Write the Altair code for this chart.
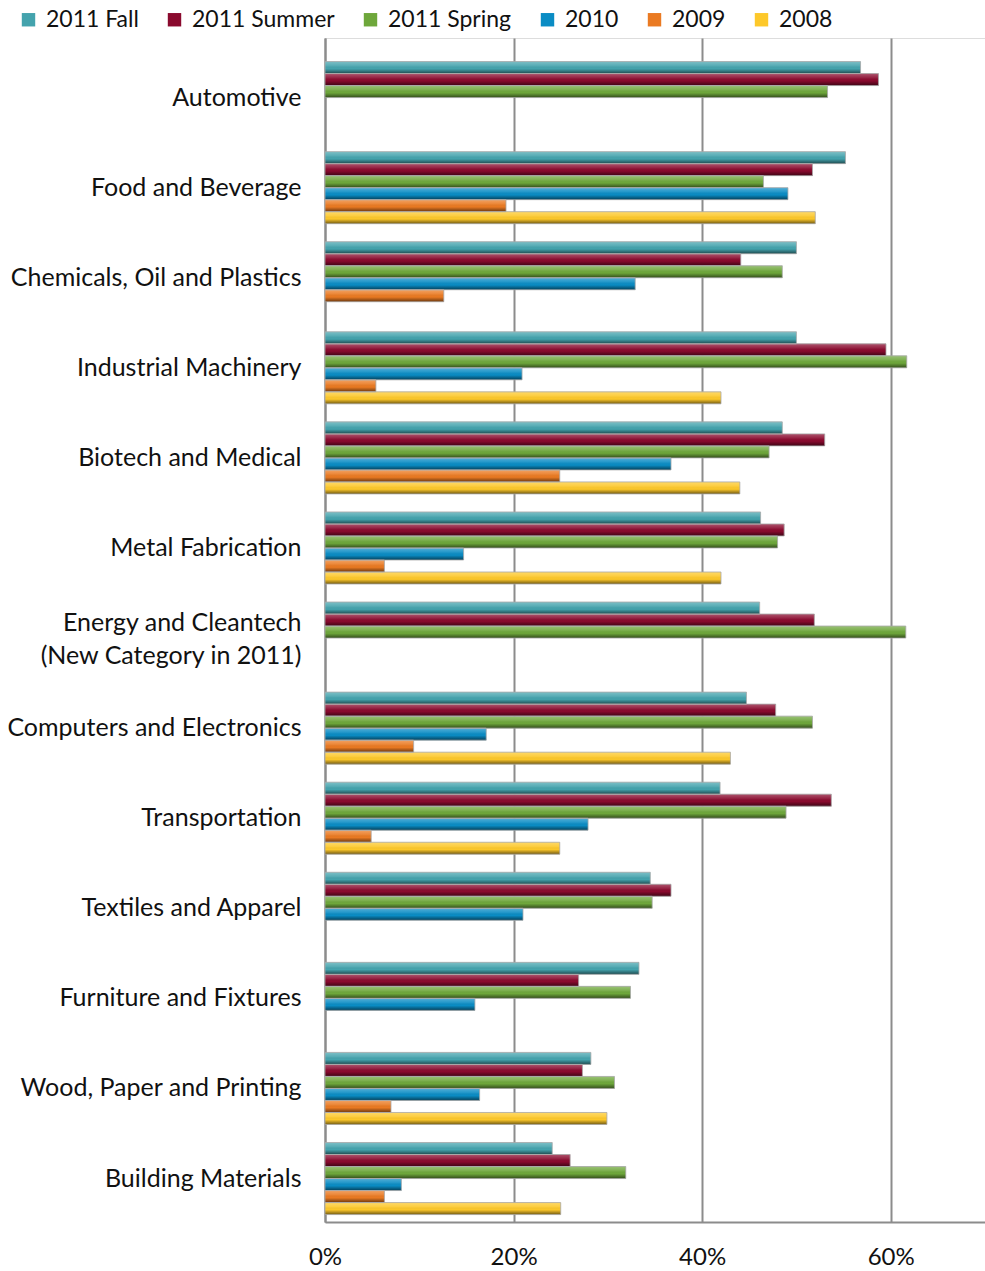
import altair as alt
import pandas as pd

# Industry categories, top to bottom
categories = [
    "Automotive",
    "Food and Beverage",
    "Chemicals, Oil and Plastics",
    "Industrial Machinery",
    "Biotech and Medical",
    "Metal Fabrication",
    "Energy and Cleantech |(New Category in 2011)",
    "Computers and Electronics",
    "Transportation",
    "Textiles and Apparel",
    "Furniture and Fixtures",
    "Wood, Paper and Printing",
    "Building Materials",
]

series_names = ["2011 Fall", "2011 Summer", "2011 Spring", "2010", "2009", "2008"]
series_colors = ["#44a3ad", "#8a0a2e", "#6ea73b", "#0a8cc4", "#ea7a22", "#fdc82a"]

# Percent of respondents, one list per survey (None = not surveyed)
fall_2011 = [56.8, 55.2, 50.0, 50.0, 48.5, 46.2, 46.1, 44.7, 41.9, 34.5, 33.3, 28.2, 24.1]
summer_2011 = [58.7, 51.7, 44.1, 59.5, 53.0, 48.7, 51.9, 47.8, 53.7, 36.7, 26.9, 27.3, 26.0]
spring_2011 = [53.3, 46.5, 48.5, 61.7, 47.1, 48.0, 61.6, 51.7, 48.9, 34.7, 32.4, 30.7, 31.9]
y2010 = [None, 49.1, 32.9, 20.9, 36.7, 14.7, None, 17.1, 27.9, 21.0, 15.9, 16.4, 8.1]
y2009 = [None, 19.2, 12.6, 5.4, 24.9, 6.3, None, 9.4, 4.9, None, None, 7.0, 6.3]
y2008 = [None, 52.0, None, 42.0, 44.0, 42.0, None, 43.0, 24.9, None, None, 29.9, 25.0]

series_values = [fall_2011, summer_2011, spring_2011, y2010, y2009, y2008]

rows = []
for name, values in zip(series_names, series_values):
    for cat, v in zip(categories, values):
        if v is not None:
            rows.append({"category": cat, "series": name, "value": v})
df = pd.DataFrame(rows)

FONT = "Lato"
GRID = "#8c8c8c"
TEXT = "#111111"

y_enc = alt.Y(
    "category:N",
    sort=categories,
    title=None,
    scale=alt.Scale(paddingInner=0.2, paddingOuter=0.172, align=0.76),
    axis=alt.Axis(
        labelFontSize=25,
        labelFont=FONT,
        labelColor=TEXT,
        labelPadding=24,
        labelLimit=400,
        labelLineHeight=33,
        labelExpr="split(datum.label, '|')",
        # two-line label: lift it so both lines sit around the band centre
        labelOffset={"condition": {"test": "indexof(datum.value, '|') >= 0", "value": -15}, "value": 0},
        ticks=False,
        domainColor=GRID,
        domainWidth=2,
    ),
)
x_enc = alt.X(
    "value:Q",
    title=None,
    scale=alt.Scale(domain=[0, 70], nice=False),
    axis=alt.Axis(
        values=[0, 20, 40, 60],
        labelExpr="datum.value + '%'",
        labelFontSize=24,
        labelFont=FONT,
        labelColor=TEXT,
        labelPadding=23,
        labelFlush=False,
        ticks=False,
        grid=True,
        gridColor=GRID,
        gridWidth=2,
        domainColor=GRID,
        domainWidth=2,
    ),
)
yoff = alt.YOffset("series:N", sort=series_names, scale=alt.Scale(paddingInner=0, paddingOuter=0))

bars = alt.Chart(df).mark_bar(cornerRadius=0).encode(
    y=y_enc,
    x=x_enc,
    yOffset=yoff,
    color=alt.Color(
        "series:N",
        sort=series_names,
        scale=alt.Scale(domain=series_names, range=series_colors),
        legend=alt.Legend(
            title=None,
            orient="none",
            direction="horizontal",
            legendX=-308,
            legendY=-30,
            symbolType="square",
            symbolSize=180,
            symbolStrokeWidth=0,
            labelFontSize=23,
            labelFont=FONT,
            labelColor=TEXT,
            labelOffset=6,
            columnPadding=24,
        ),
    ),
)

# Shading overlay giving each bar a rounded, tube-like look
shade = alt.Gradient(
    gradient="linear",
    x1=0, x2=0, y1=0, y2=1,
    stops=[
        alt.GradientStop(offset=0, color="rgba(255,255,255,0.30)"),
        alt.GradientStop(offset=0.35, color="rgba(255,255,255,0.10)"),
        alt.GradientStop(offset=0.6, color="rgba(0,0,0,0.0)"),
        alt.GradientStop(offset=1, color="rgba(0,0,0,0.55)"),
    ],
)
gloss = alt.Chart(df).mark_bar(fill=shade, stroke="#a8a8a8", strokeWidth=0.8).encode(
    y=alt.Y("category:N", sort=categories),
    x="value:Q",
    yOffset=yoff,
)

chart = (
    alt.layer(bars, gloss)
    .properties(
        width=660,
        height=1184,
        autosize=alt.AutoSizeParams(type="none"),
        padding={"left": 325, "top": 38, "right": 0, "bottom": 49},
    )
    .configure_view(stroke=None)
    .configure(background="white")
)

chart.save("out.html", embed_options={"renderer": "svg", "actions": False})
